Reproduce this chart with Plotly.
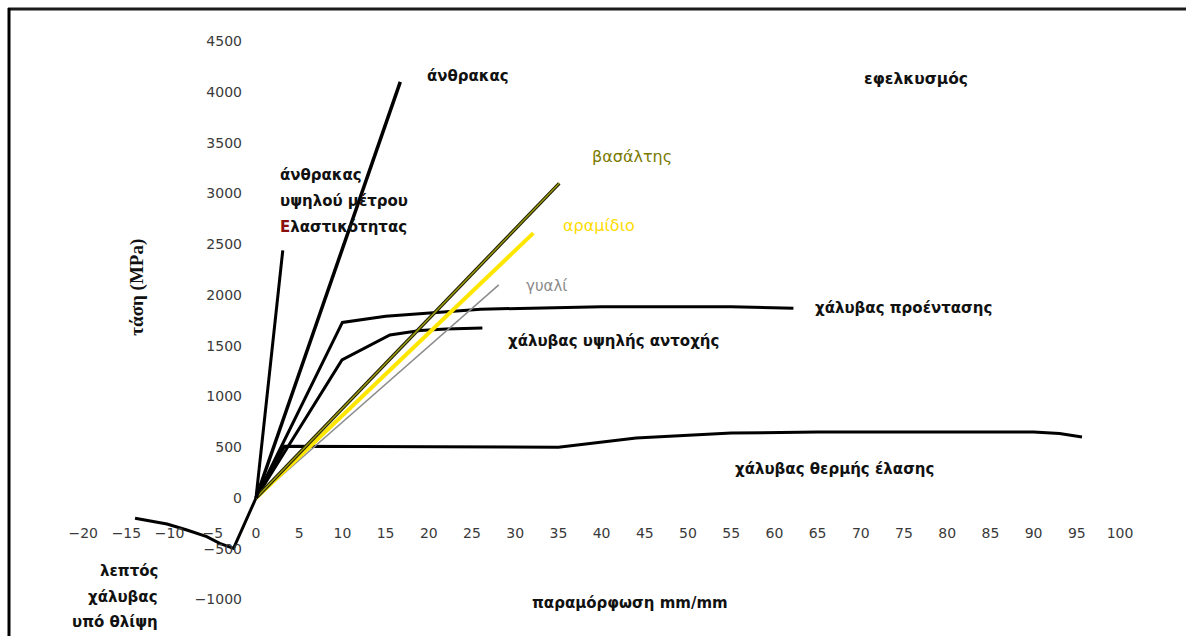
import plotly.graph_objects as go

# ---- stress-strain data (strain in mm/mm x 1000 scale, stress in MPa) ----
carbon_x = [0, 16.7]
carbon_y = [0, 4100]

hm_carbon_x = [0, 3.1]
hm_carbon_y = [0, 2440]

basalt_x = [0, 35.1]
basalt_y = [0, 3100]

aramid_x = [0, 32.1]
aramid_y = [0, 2610]

glass_x = [0, 28.1]
glass_y = [0, 2100]

prestress_x = [0, 10, 15, 20, 26, 40, 55, 62.2]
prestress_y = [0, 1730, 1790, 1825, 1860, 1885, 1885, 1870]

highstr_x = [0, 9.95, 15.5, 19, 22, 26.2]
highstr_y = [0, 1360, 1606, 1650, 1665, 1675]

hotroll_x = [0, 3.3, 35, 44, 55, 65, 90, 93, 95.6]
hotroll_y = [0, 510, 500, 590, 640, 650, 650, 635, 600]

thin_x = [-14.0, -10.3, -8.0, -5.7, -4.2, -2.6, 0]
thin_y = [-200, -256, -315, -381, -447, -496, 0]

x_ticks = list(range(-20, 101, 5))
y_ticks = list(range(-1000, 4501, 500))

# ---- layout geometry ----
W, H = 1186, 636
ML, MR, MT, MB = 40, 23, 20, 8
X0PX, XS = 256, 8.64      # pixel of strain 0, pixels per unit
Y0PX, YS = 498, 0.1015    # pixel of stress 0, pixels per MPa

x_range = [-(X0PX - ML) / XS, (W - MR - X0PX) / XS]
y_range = [-(H - MB - Y0PX) / YS, (Y0PX - MT) / YS]
plot_w = W - ML - MR
plot_h = H - MT - MB


def px_x(p):
    return (p - ML) / plot_w


def px_y(p):
    return (H - MB - p) / plot_h


FONT = "DejaVu Sans"

fig = go.Figure()


def line(x, y, color, width):
    fig.add_trace(go.Scatter(x=x, y=y, mode="lines",
                             line=dict(color=color, width=width),
                             hoverinfo="skip", showlegend=False))


line(hotroll_x, hotroll_y, "#000000", 3)
line(thin_x, thin_y, "#000000", 3)
line(highstr_x, highstr_y, "#000000", 3)
line(prestress_x, prestress_y, "#000000", 3)
line(glass_x, glass_y, "#8c8c8c", 1.5)
line(aramid_x, aramid_y, "#ffe600", 4)
line(basalt_x, basalt_y, "#1a1a00", 3.5)
line(basalt_x, basalt_y, "#9c9c10", 1.5)
line(hm_carbon_x, hm_carbon_y, "#000000", 3)
line(carbon_x, carbon_y, "#000000", 3.5)

annotations = []


def label(text, x, y, color="#111111", xanchor="left", size=15, family=FONT,
          angle=0, weight="bold"):
    annotations.append(dict(text=text, x=x, y=y, xref="x", yref="y",
                            xanchor=xanchor, yanchor="middle", showarrow=False,
                            textangle=angle,
                            font=dict(family=family, size=size, color=color,
                                      weight=weight)))


label("άνθρακας", 19.6, 4158)
label("εφελκυσμός", 70.1, 4128, size=15.5)
label("άνθρακας", 2.5, 3182)
label("υψηλού μέτρου", 2.5, 2926)
label("<span style='color:#8b1010'>Ε</span>λαστικότητας", 2.5, 2670)
label("βασάλτης", 38.7, 3360, color="#7a7a00", weight="normal", size=16)
label("αραμίδιο", 35.3, 2680, color="#ffdc00", weight="normal", size=16)
label("γυαλί", 31.0, 2089, color="#8a8a8a", weight="normal", size=15)
label("χάλυβας προέντασης", 64.5, 1872)
label("χάλυβας υψηλής αντοχής", 28.9, 1547)
label("χάλυβας θερμής έλασης", 55.2, 286)
label("λεπτός", -11.1, -719, xanchor="right")
label("χάλυβας", -11.1, -975, xanchor="right")
label("υπό θλίψη", -11.1, -1222, xanchor="right")
label("παραμόρφωση mm/mm", 43.3, -1034, xanchor="center")
label("τάση (MPa)", -13.8, 2080, xanchor="center", family="Liberation Serif",
      size=19, angle=-90)

axis_common = dict(showgrid=False, zeroline=False, showline=False, ticks="",
                   tickfont=dict(family=FONT, size=14, color="#3a3a3a"))

fig.update_layout(
    width=W, height=H,
    margin=dict(l=ML, r=MR, t=MT, b=MB),
    paper_bgcolor="white", plot_bgcolor="white",
    xaxis=dict(range=x_range, tickvals=x_ticks, anchor="free",
               position=px_y(Y0PX), ticklabelstandoff=25, **axis_common),
    yaxis=dict(range=y_range, tickvals=y_ticks, anchor="free",
               position=px_x(X0PX), ticklabelstandoff=14, **axis_common),
    annotations=annotations,
    shapes=[
        dict(type="line", xref="paper", yref="paper",
             x0=px_x(8), x1=px_x(W + 5), y0=px_y(9), y1=px_y(9),
             line=dict(color="#1a1a1a", width=3)),
        dict(type="line", xref="paper", yref="paper",
             x0=px_x(9), x1=px_x(9), y0=px_y(8), y1=px_y(H + 5),
             line=dict(color="#000000", width=3)),
    ],
)

fig.write_html("out.html")
